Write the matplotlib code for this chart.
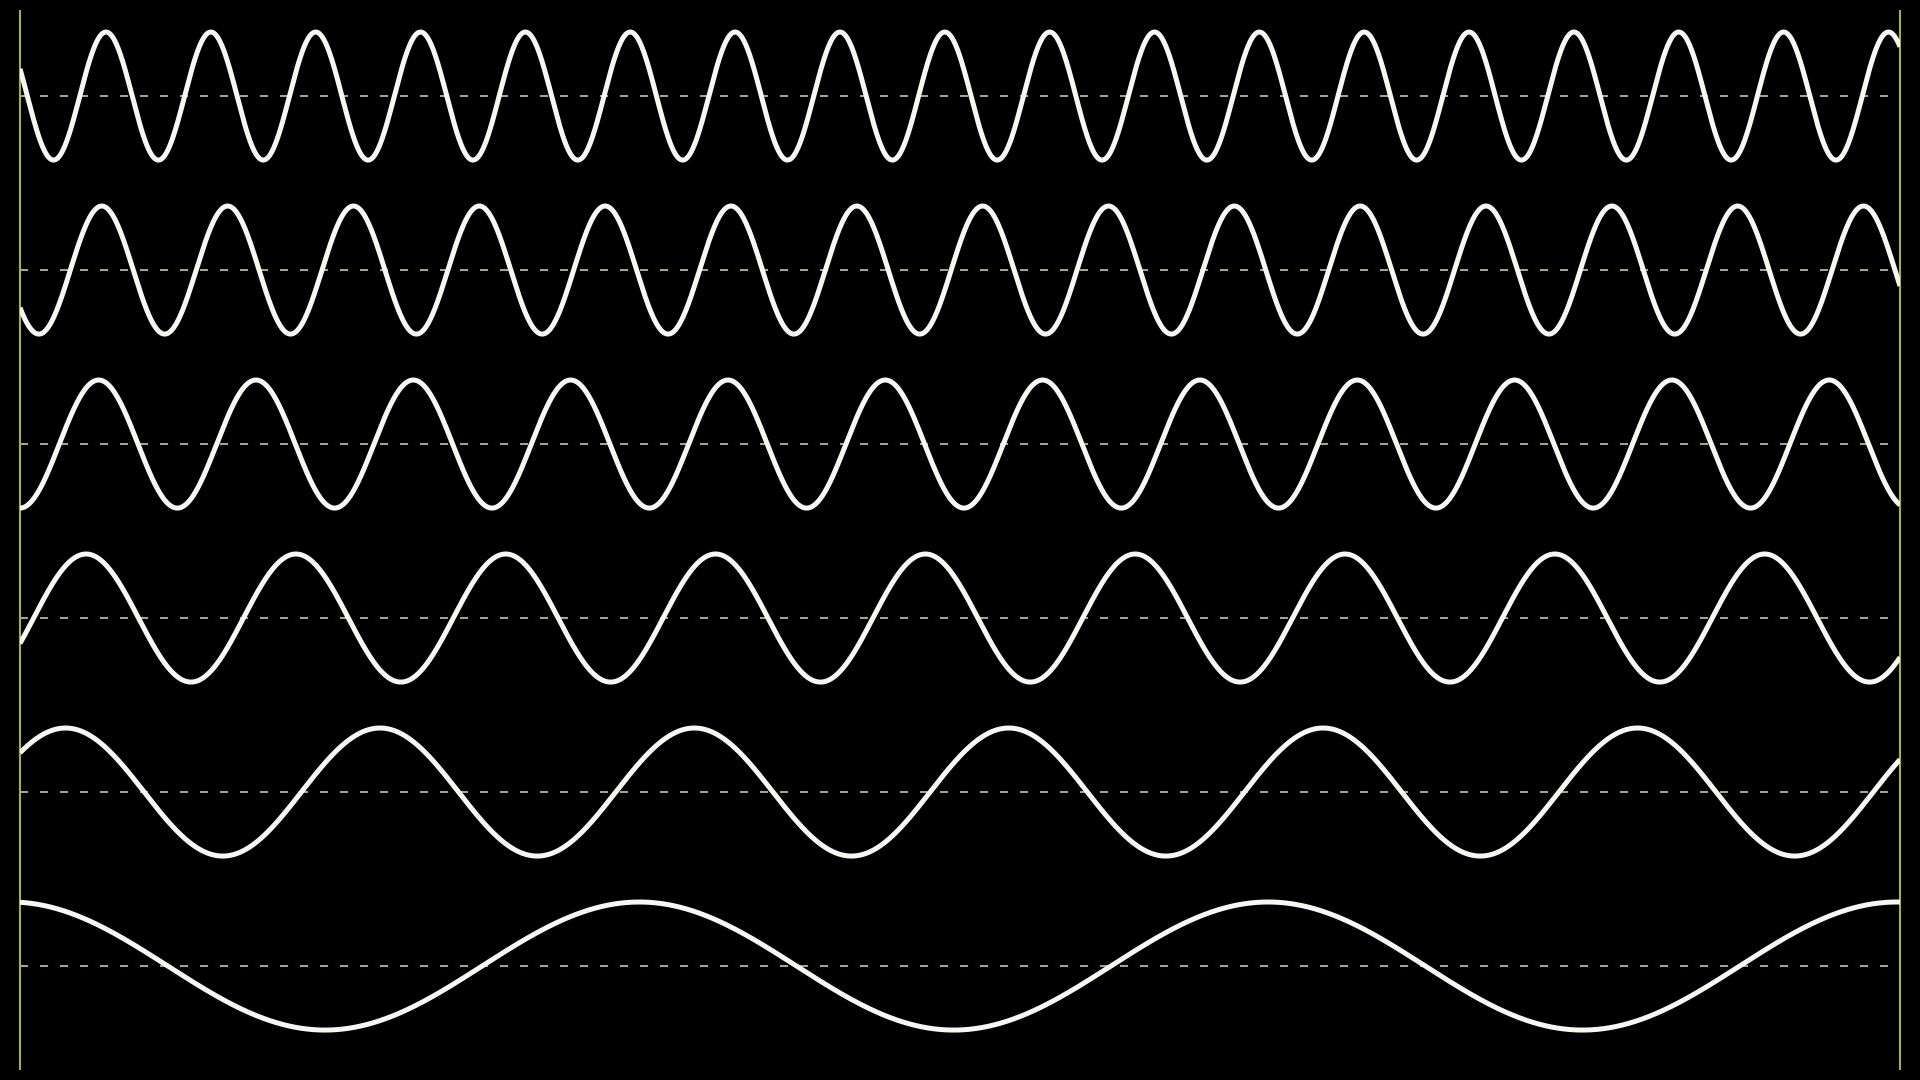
import numpy as np
import matplotlib
matplotlib.use("Agg")
import matplotlib.pyplot as plt

# ---- DATA ---- #
# one sine wave per row, top to bottom
cycles = [17.93, 14.94, 11.95, 8.96, 5.98, 2.99]   # periods across the width
phases = [0.43, 0.60, 0.75, 0.935, 0.105, 0.265]   # start phase, in cycles
amplitude = 0.368                                   # in row units

# ---- STYLE ---- #
bg = "black"
wave_color = "#f7f7f2"
frame_color = "#a9b03a"
dash_color = "#b9b994"

plt.rcParams["lines.scale_dashes"] = False

fig = plt.figure(figsize=(19.2, 10.8), dpi=100, facecolor=bg)
ax = fig.add_axes([20 / 1920, 0, 1880 / 1920, 1])
ax.set_facecolor(bg)
ax.set_xlim(0, 1)
ax.set_ylim(5.655, -0.552)
ax.axis("off")

x = np.linspace(0, 1, 3000)
for row, (n, ph) in enumerate(zip(cycles, phases)):
    # centre line
    ax.plot([0, 0.996], [row, row], color=dash_color, lw=1.3,
            dashes=(5.8, 8.6), zorder=1)
    y = row - amplitude * np.sin(2 * np.pi * (n * x + ph))
    ax.plot(x, y, color=wave_color, lw=3.6, solid_capstyle="butt", zorder=3)

# frame lines left and right
ax.vlines([0, 1], -0.494, 5.598, color=frame_color, lw=1.5, zorder=2,
          clip_on=False)

fig.savefig("out.png", dpi=100, facecolor=bg)
plt.close(fig)
